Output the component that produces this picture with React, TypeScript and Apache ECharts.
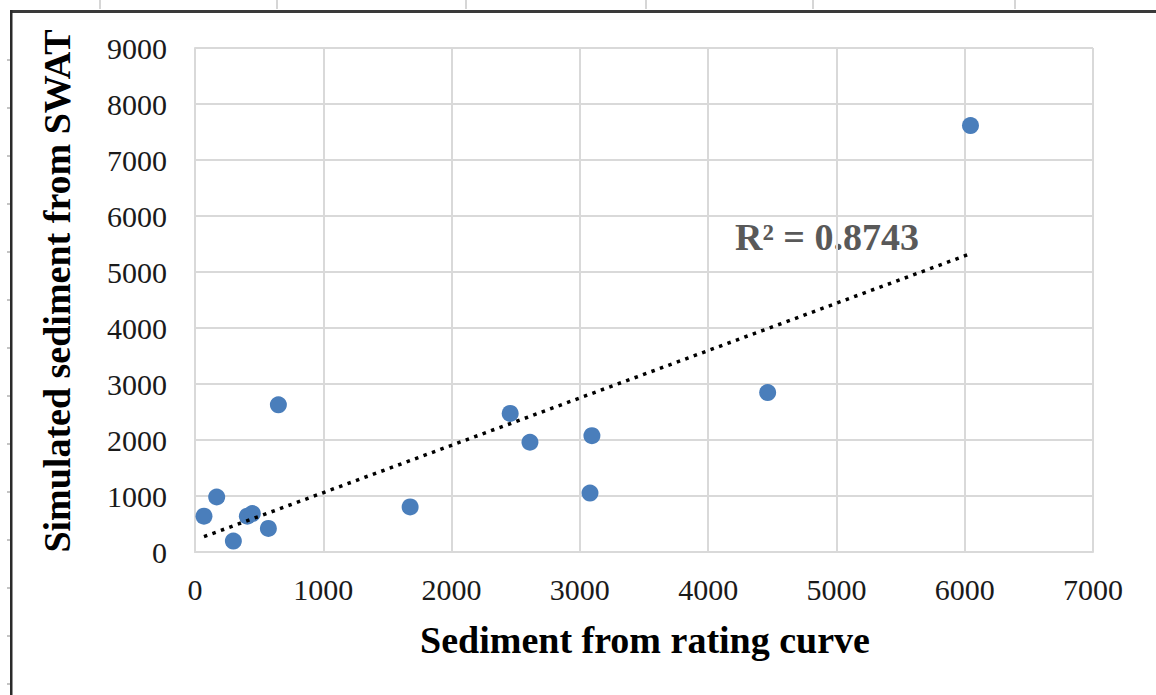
import React, { useEffect, useRef } from "react";
import * as echarts from "echarts";

// Observed sediment (rating curve) vs simulated sediment (SWAT)
const ratingCurve: number[] = [70, 169, 299, 408, 447, 572, 650, 1677, 2457, 2611, 3079, 3094, 4464, 6045];
const swatSimulated: number[] = [639, 982, 195, 639, 687, 420, 2629, 805, 2474, 1960, 1053, 2078, 2847, 7614];

const xTicks = { min: 0, max: 7000, interval: 1000 };
const yTicks = { min: 0, max: 9000, interval: 1000 };

const xTitle = "Sediment from rating curve";
const yTitle = "Simulated sediment from SWAT";
const r2Label = "R² = 0.8743";

const SERIF = "'Liberation Serif', 'Times New Roman', serif";

// Least-squares linear trendline spanning the observed x range
function linearFit(xs: number[], ys: number[]) {
  const n = xs.length;
  const mx = xs.reduce((a, b) => a + b, 0) / n;
  const my = ys.reduce((a, b) => a + b, 0) / n;
  let sxy = 0;
  let sxx = 0;
  for (let i = 0; i < n; i++) {
    sxy += (xs[i] - mx) * (ys[i] - my);
    sxx += (xs[i] - mx) * (xs[i] - mx);
  }
  const slope = sxy / sxx;
  const intercept = my - slope * mx;
  const x0 = Math.min(...xs);
  const x1 = Math.max(...xs);
  return [
    [x0, intercept + slope * x0],
    [x1, intercept + slope * x1],
  ];
}

// Page frame decoration
const frameTopTicks = [100, 277, 466, 646, 813, 1015];
const frameLeftTicks = Array.from({ length: 14 }, (_, k) => 60 + 48 * k);

export default function App() {
  const ref = useRef<HTMLDivElement>(null);

  useEffect(() => {
    if (!ref.current) return;
    const chart = echarts.init(ref.current, undefined, { renderer: "svg" });

    const points = ratingCurve.map((x, i) => [x, swatSimulated[i]]);
    const trend = linearFit(ratingCurve, swatSimulated);

    const gridColor = "#d9d9d9";
    const labelStyle = {
      fontFamily: SERIF,
      fontSize: 30,
      color: "#1a1a1a",
      formatter: (v: number) => String(v),
    };

    const graphics: any[] = [
      {
        id: "frame-top",
        type: "rect",
        z: 100,
        left: 10,
        top: 10,
        shape: { width: 1146, height: 3 },
        style: { fill: "#3a3a3a" },
        silent: true,
      },
      {
        id: "frame-left",
        type: "rect",
        z: 100,
        left: 10,
        top: 10,
        shape: { width: 2.5, height: 685 },
        style: { fill: "#2a2a2a" },
        silent: true,
      },
      ...frameTopTicks.map((x, i) => ({
        id: "top-tick-" + i,
        type: "rect",
        shape: { x: x - 0.75, y: 0, width: 1.5, height: 9 },
        style: { fill: "#c8c8c8" },
        silent: true,
      })),
      ...frameLeftTicks.map((y, i) => ({
        id: "left-tick-" + i,
        type: "rect",
        shape: { x: 7, y: y - 0.75, width: 3, height: 1.5 },
        style: { fill: "#b0b0b0" },
        silent: true,
      })),
      {
        id: "x-title",
        type: "text",
        x: 645,
        y: 640,
        style: {
          text: xTitle,
          fontFamily: SERIF,
          fontWeight: "bold",
          fontSize: 38,
          fill: "#000",
          textAlign: "center",
          textVerticalAlign: "middle",
        },
      },
      {
        id: "y-title",
        type: "text",
        x: 57,
        y: 291,
        rotation: Math.PI / 2,
        style: {
          text: yTitle,
          fontFamily: SERIF,
          fontWeight: "bold",
          fontSize: 38,
          fill: "#000",
          textAlign: "center",
          textVerticalAlign: "middle",
        },
      },
      {
        id: "r2",
        type: "text",
        x: 735,
        y: 237,
        style: {
          text: r2Label,
          fontFamily: SERIF,
          fontWeight: "bold",
          fontSize: 38,
          fill: "#595959",
          textAlign: "left",
          textVerticalAlign: "middle",
        },
      },
    ];

    chart.setOption({
      animation: false,
      backgroundColor: "#ffffff",
      grid: { left: 195, right: 63, top: 48, bottom: 143, containLabel: false },
      xAxis: {
        type: "value",
        min: xTicks.min,
        max: xTicks.max,
        interval: xTicks.interval,
        axisLine: { show: true, lineStyle: { color: gridColor, width: 2 } },
        axisTick: { show: false },
        splitLine: { show: true, lineStyle: { color: gridColor, width: 2 } },
        axisLabel: { ...labelStyle, margin: 22 },
      },
      yAxis: {
        type: "value",
        min: yTicks.min,
        max: yTicks.max,
        interval: yTicks.interval,
        axisLine: { show: true, lineStyle: { color: gridColor, width: 2 } },
        axisTick: { show: false },
        splitLine: { show: true, lineStyle: { color: gridColor, width: 2 } },
        axisLabel: { ...labelStyle, margin: 28 },
      },
      series: [
        {
          type: "line",
          data: trend,
          symbol: "none",
          silent: true,
          z: 3,
          lineStyle: { color: "#000", width: 3.5, type: [3.5, 5.5] },
        },
        {
          type: "scatter",
          data: points,
          symbol: "circle",
          symbolSize: 17,
          z: 2,
          itemStyle: { color: "#4a7ebb", opacity: 1 },
        },
      ],
      graphic: graphics,
    });

    return () => chart.dispose();
  }, []);

  return (
    <div
      ref={ref}
      style={{ position: "absolute", left: 0, top: 0, width: 1156, height: 695, background: "#fff" }}
    />
  );
}
